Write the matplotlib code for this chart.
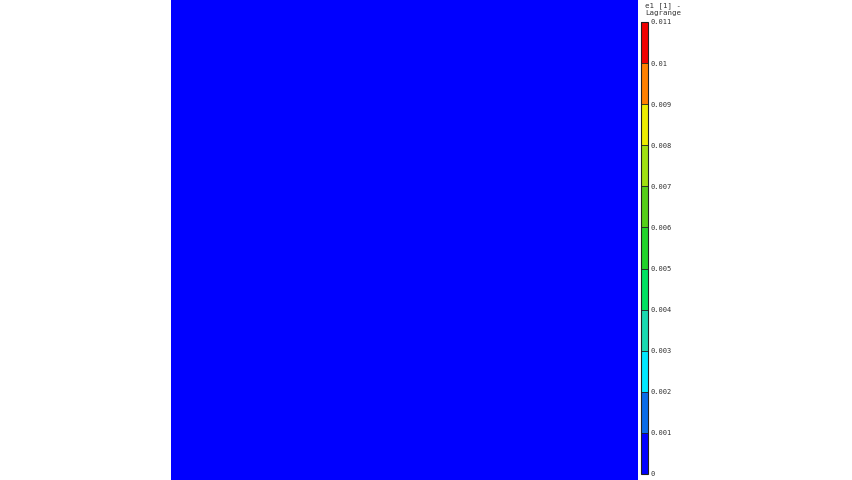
import matplotlib
matplotlib.use("Agg")
import matplotlib.pyplot as plt
import numpy as np
from matplotlib.colors import ListedColormap, BoundaryNorm

# champ e1 (Lagrange) : uniforme, valeur nulle partout
field = np.zeros((40, 40))

# niveaux de la légende
levels = [0, 0.001, 0.002, 0.003, 0.004, 0.005, 0.006, 0.007, 0.008, 0.009, 0.01, 0.011]
tick_labels = ["0", "0.001", "0.002", "0.003", "0.004", "0.005", "0.006",
               "0.007", "0.008", "0.009", "0.01", "0.011"]
band_colors = ["#0000ff", "#0a6ce8", "#00e8ff", "#1ad9b0", "#00e060", "#22d42a",
               "#55d018", "#a0e010", "#ecec00", "#ff8000", "#f00000"]

cmap = ListedColormap(band_colors)
norm = BoundaryNorm(levels, cmap.N)

fig = plt.figure(figsize=(8.53, 4.8), dpi=100)

    # zone du champ
ax = fig.add_axes([171/853, 0, 467/853, 1])
ax.imshow(field, cmap=cmap, norm=norm, aspect="auto", interpolation="nearest")
ax.set_axis_off()

    # barre de couleur
cax = fig.add_axes([641/853, 6/480, 7/853, 452/480])
cb = fig.colorbar(ax.images[0], cax=cax, ticks=levels)
cb.ax.set_yticklabels(tick_labels, fontsize=5, family="DejaVu Sans Mono", color="#333333")
cb.ax.tick_params(length=0, pad=2)
cb.outline.set_linewidth(0.8)
cb.outline.set_edgecolor("#202020")
for lv in levels[1:-1]:
    cax.axhline(lv, color="#202020", linewidth=0.6)

fig.text(645/853, 1 - 2/480, "e1 [1] -\nLagrange", fontsize=5.3, family="DejaVu Sans Mono",
         va="top", ha="left", linespacing=1.25, color="#333333")

fig.savefig("out.png", dpi=100)
